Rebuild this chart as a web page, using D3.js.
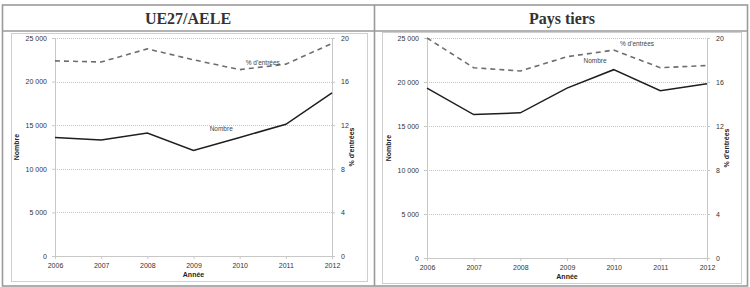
<!DOCTYPE html>
<html>
<head>
  <meta charset="utf-8">
  <script src="https://cdnjs.cloudflare.com/ajax/libs/d3/7.8.5/d3.min.js"></script>
  <style>
    body { margin: 0; background: #fff; }
    text { font-family: "Liberation Sans", Arial, sans-serif; }
  </style>
</head>
<body>
<svg id="chart" width="750" height="287"></svg>
<script>
// data
var years = [2006, 2007, 2008, 2009, 2010, 2011, 2012];
var ueNombre = [13600, 13300, 14100, 12100, 13600, 15100, 18700];
var uePct = [17.9, 17.8, 19.0, 18.0, 17.1, 17.6, 19.5];
var ptNombre = [19300, 16300, 16500, 19300, 21400, 19000, 19800];
var ptPct = [20.0, 17.3, 17.0, 18.3, 18.9, 17.3, 17.5];

var titles = ["UE27/AELE", "Pays tiers"];
var leftTicks = [0, 5000, 10000, 15000, 20000, 25000];
var rightTicks = [0, 4, 8, 12, 16, 20];

var fr = d3.formatLocale({ decimal: ",", thousands: "\u00a0", grouping: [3], currency: ["", " €"] });
var fmt = fr.format(",d");

var svg = d3.select("#chart");

// table borders
var border = "#9a9a9a";
svg.append("rect").attr("x", 2.5).attr("y", 5).attr("width", 745).attr("height", 281)
  .attr("fill", "none").attr("stroke", border).attr("stroke-width", 1.6);
svg.append("line").attr("x1", 2.5).attr("x2", 747.5).attr("y1", 31).attr("y2", 31)
  .attr("stroke", border).attr("stroke-width", 1.6);
svg.append("line").attr("x1", 374.5).attr("x2", 374.5).attr("y1", 5).attr("y2", 286)
  .attr("stroke", border).attr("stroke-width", 1.6);

titles.forEach(function(t, i) {
  svg.append("text").attr("x", i === 0 ? 188 : 562).attr("y", 24)
    .attr("text-anchor", "middle")
    .style("font-family", "'Liberation Serif', 'DejaVu Serif', serif")
    .style("font-weight", "bold").style("font-size", "16px").style("fill", "#333")
    .text(t);
});

function drawPanel(p) {
  var g = svg.append("g");

  g.append("rect").attr("x", p.fx).attr("y", p.fy).attr("width", p.fw).attr("height", p.fh)
    .attr("fill", "#fff").attr("stroke", "#cfcfcf").attr("stroke-width", 1);

  var x = d3.scaleLinear().domain([2006, 2012]).range([p.x0, p.x1]);
  var yN = d3.scaleLinear().domain([0, 25000]).range([p.y0, p.y1]);
  var yP = d3.scaleLinear().domain([0, 20]).range([p.y0, p.y1]);

  // gridlines
  g.selectAll(".grid").data(leftTicks.slice(1)).enter().append("line")
    .attr("x1", p.x0).attr("x2", p.x1)
    .attr("y1", function(d) { return Math.round(yN(d)) + 0.5; })
    .attr("y2", function(d) { return Math.round(yN(d)) + 0.5; })
    .attr("stroke", "#b8b8b8").attr("stroke-width", 0.8).attr("stroke-dasharray", "1,1");

  var axisColor = "#c8c8c8";

  var xAxis = g.append("g").attr("transform", "translate(0," + p.y0 + ")")
    .call(d3.axisBottom(x).tickValues(years).tickFormat(d3.format("d")).tickSize(3).tickPadding(4));
  var yAxisL = g.append("g").attr("transform", "translate(" + p.x0 + ",0)")
    .call(d3.axisLeft(yN).tickValues(leftTicks).tickFormat(fmt).tickSize(3).tickPadding(5));
  var yAxisR = g.append("g").attr("transform", "translate(" + p.x1 + ",0)")
    .call(d3.axisRight(yP).tickValues(rightTicks).tickSize(3).tickPadding(6));

  [xAxis, yAxisL, yAxisR].forEach(function(a) {
    a.select(".domain").attr("stroke", axisColor);
    a.selectAll(".tick line").attr("stroke", axisColor);
    a.selectAll("text").style("font-size", "7px").style("fill", "#333")
      .style("font-family", "'Liberation Sans', Arial, sans-serif");
  });

  // lines
  var lineN = d3.line().x(function(d, i) { return x(years[i]); }).y(function(d) { return yN(d); });
  var lineP = d3.line().x(function(d, i) { return x(years[i]); }).y(function(d) { return yP(d); });

  g.append("path").datum(p.pct).attr("d", lineP).attr("fill", "none")
    .attr("stroke", "#6e6e6e").attr("stroke-width", 1.6).attr("stroke-dasharray", "5,4");
  g.append("path").datum(p.nombre).attr("d", lineN).attr("fill", "none")
    .attr("stroke", "#1e1e1e").attr("stroke-width", 1.5);

  // series labels
  g.append("text").attr("x", x(p.pctLab[0])).attr("y", yP(p.pctLab[1]))
    .attr("text-anchor", "middle").style("font-size", "6.5px").style("fill", "#444")
    .text("% d'entrées");
  g.append("text").attr("x", x(p.nLab[0])).attr("y", yN(p.nLab[1]))
    .attr("text-anchor", "middle").style("font-size", "6.5px").style("fill", "#444")
    .text("Nombre");

  // axis titles
  var mid = (p.y0 + p.y1) / 2;
  g.append("text").attr("transform", "translate(" + (p.x0 - 36) + "," + mid + ") rotate(-90)")
    .attr("text-anchor", "middle").style("font-size", "7px").style("font-weight", "bold")
    .style("fill", "#222").text("Nombre");
  g.append("text").attr("transform", "translate(" + (p.x1 + 22) + "," + mid + ") rotate(-90)")
    .attr("text-anchor", "middle").style("font-size", "7px").style("font-weight", "bold")
    .style("fill", "#222").text("% d'entrées");
  g.append("text").attr("x", (p.x0 + p.x1) / 2).attr("y", p.y0 + 21)
    .attr("text-anchor", "middle").style("font-size", "7px").style("font-weight", "bold")
    .style("fill", "#222").text("Année");
}

drawPanel({
  fx: 11.5, fy: 33.5, fw: 356, fh: 248,
  x0: 55, x1: 332, y0: 256, y1: 38,
  nombre: ueNombre, pct: uePct,
  pctLab: [2010.5, 17.5], nLab: [2009.6, 14300]
});
drawPanel({
  fx: 382.5, fy: 32.5, fw: 359, fh: 251,
  x0: 427, x1: 707, y0: 258, y1: 38,
  nombre: ptNombre, pct: ptPct,
  pctLab: [2010.5, 19.3], nLab: [2009.6, 22200]
});
</script>
</body>
</html>
